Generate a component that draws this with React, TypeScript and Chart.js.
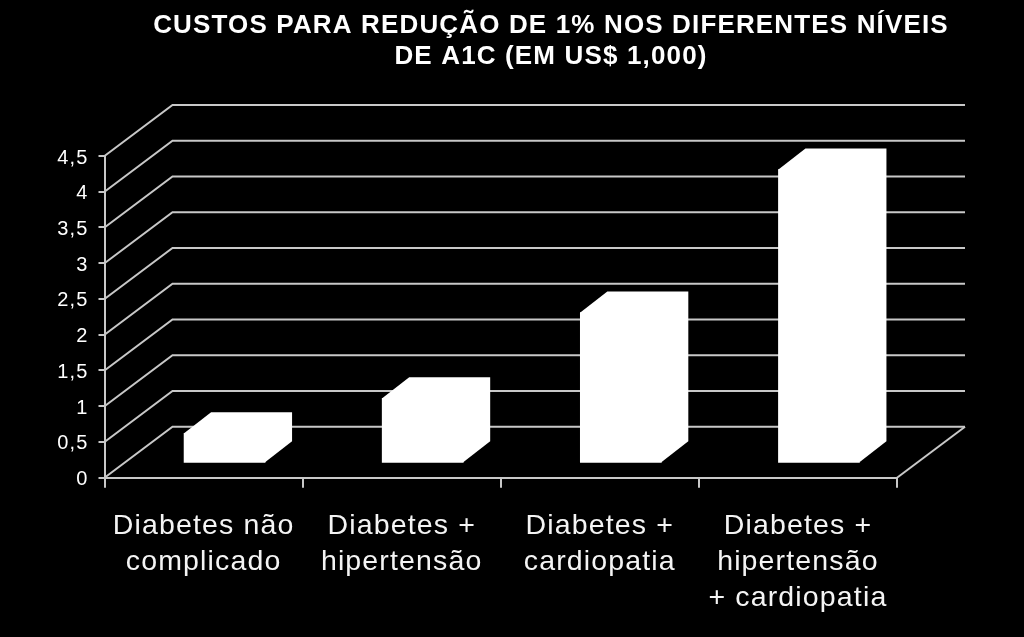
import React, { useEffect, useRef } from "react";
import { Chart, registerables } from "chart.js";

Chart.register(...registerables);

const titleLines = [
  "CUSTOS PARA REDUÇÃO DE 1% NOS DIFERENTES NÍVEIS",
  "DE A1C (EM US$ 1,000)",
];
const categories = [
  ["Diabetes não", "complicado"],
  ["Diabetes +", "hipertensão"],
  ["Diabetes +", "cardiopatia"],
  ["Diabetes +", "hipertensão", "+ cardiopatia"],
];
const costValues = [0.42, 0.91, 2.11, 4.11];
const yMax = 4.5;
const yStep = 0.5;

const GRID = "#c8c8c8";
const GRID_W = 2;
const WALL = { dx: 68, dy: -51 };
const BAR_SHIFT = { dx: 21, dy: -14.4 };
const BAR_DEPTH = { dx: 27, dy: -21 };

const fake3d = {
  id: "fake3d",
  afterLayout(chart: any) {
    if (chart.titleBlock) {
      chart.titleBlock.left = 78;
      chart.titleBlock.right = 1024;
    }
  },
  beforeDraw(chart: any) {
    chart.ctx.letterSpacing = "1.15px";
  },
  beforeDatasetsDraw(chart: any) {
    const { ctx, scales } = chart;
    const y = scales.y;
    const x = scales.x;
    ctx.save();
    ctx.strokeStyle = GRID;
    ctx.lineWidth = GRID_W;
    y.ticks.forEach((t: any) => {
      const py = y.getPixelForValue(t.value);
      ctx.beginPath();
      ctx.moveTo(x.left, py);
      ctx.lineTo(x.left + WALL.dx, py + WALL.dy);
      ctx.lineTo(x.right + WALL.dx, py + WALL.dy);
      ctx.stroke();
    });
    const py0 = y.getPixelForValue(0);
    ctx.beginPath();
    ctx.moveTo(x.right, py0);
    ctx.lineTo(x.right + WALL.dx, py0 + WALL.dy);
    ctx.stroke();
    ctx.restore();
  },
  beforeDatasetDraw(chart: any) {
    chart.ctx.save();
    chart.ctx.translate(BAR_SHIFT.dx, BAR_SHIFT.dy);
  },
  afterDatasetDraw(chart: any, args: any) {
    const { ctx } = chart;
    ctx.fillStyle = "#ffffff";
    args.meta.data.forEach((bar: any) => {
      const { x, y, base, width } = bar.getProps(["x", "y", "base", "width"], true);
      const l = x - width / 2;
      const r = x + width / 2;
      ctx.beginPath();
      ctx.moveTo(l, y);
      ctx.lineTo(l + BAR_DEPTH.dx, y + BAR_DEPTH.dy);
      ctx.lineTo(r + BAR_DEPTH.dx, y + BAR_DEPTH.dy);
      ctx.lineTo(r + BAR_DEPTH.dx, base + BAR_DEPTH.dy);
      ctx.lineTo(r, base);
      ctx.closePath();
      ctx.fill();
    });
    ctx.restore();
  },
};

export default function App() {
  const ref = useRef<HTMLCanvasElement>(null);
  useEffect(() => {
    document.body.style.margin = "0";
    document.body.style.background = "#000";
    const chart = new Chart(ref.current!, {
      type: "bar",
      data: {
        labels: categories as any,
        datasets: [
          {
            data: costValues,
            backgroundColor: "#ffffff",
            borderWidth: 0,
            barThickness: 81,
            clip: false as any,
          },
        ],
      },
      options: {
        animation: false,
        responsive: false,
        layout: { padding: { left: 44.5, right: 0, top: 0, bottom: 0 } },
        plugins: {
          legend: { display: false },
          tooltip: { enabled: false },
          title: {
            display: true,
            text: titleLines,
            color: "#ffffff",
            font: { family: "Liberation Sans", size: 26, weight: "bold", lineHeight: 31 / 26 },
            padding: { top: 10, bottom: 84 },
          },
        },
        scales: {
          x: {
            grid: { display: true, drawOnChartArea: false, drawTicks: true, tickLength: 10, color: GRID, lineWidth: GRID_W },
            border: { display: true, color: GRID, width: GRID_W },
            ticks: {
              color: "#f4f4f4",
              font: { family: "Liberation Sans", size: 28.5, lineHeight: 36 / 28.5 },
              maxRotation: 0,
              autoSkip: false,
              padding: 20,
            },
            afterFit: (s: any) => {
              s.height = 159.3;
            },
          },
          y: {
            min: 0,
            max: yMax,
            grid: { display: true, drawOnChartArea: false, drawTicks: true, tickLength: 6, color: GRID, lineWidth: GRID_W },
            border: { display: true, color: GRID, width: GRID_W },
            ticks: {
              stepSize: yStep,
              color: "#ffffff",
              font: { family: "Liberation Sans", size: 20 },
              padding: 10,
              labelOffset: 2,
              callback: (v: any) => String(v).replace(".", ","),
            },
            afterFit: (s: any) => {
              s.width = 60;
            },
          },
          spacer: {
            position: "right",
            display: true,
            grid: { display: false },
            border: { display: false },
            ticks: { display: false },
            afterFit: (s: any) => {
              s.width = 127;
            },
          },
        },
      },
      plugins: [fake3d],
    } as any);
    return () => chart.destroy();
  }, []);
  return <canvas ref={ref} width={1024} height={637} style={{ display: "block", background: "#000" }} />;
}
